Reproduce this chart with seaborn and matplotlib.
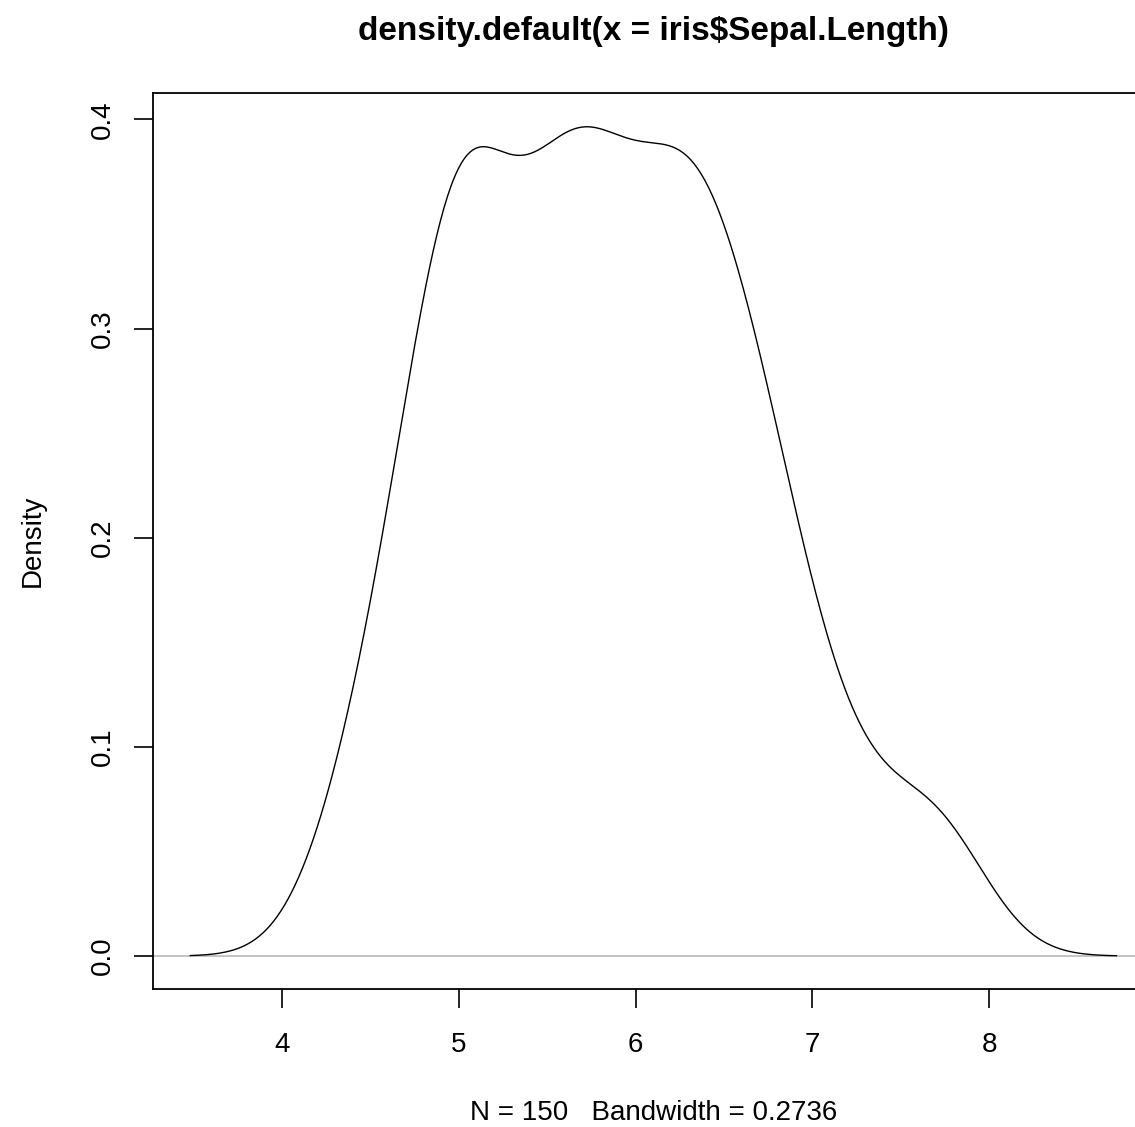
import matplotlib
matplotlib.use("Agg")
import matplotlib.pyplot as plt
import seaborn as sns
import numpy as np

# Data: iris$Sepal.Length (N = 150)
sepal_length = [
    5.1, 4.9, 4.7, 4.6, 5.0, 5.4, 4.6, 5.0, 4.4, 4.9, 5.4, 4.8, 4.8, 4.3, 5.8, 5.7, 5.4, 5.1, 5.7, 5.1,
    5.4, 5.1, 4.6, 5.1, 4.8, 5.0, 5.0, 5.2, 5.2, 4.7, 4.8, 5.4, 5.2, 5.5, 4.9, 5.0, 5.5, 4.9, 4.4, 5.1,
    5.0, 4.5, 4.4, 5.0, 5.1, 4.8, 5.1, 4.6, 5.3, 5.0,
    7.0, 6.4, 6.9, 5.5, 6.5, 5.7, 6.3, 4.9, 6.6, 5.2, 5.0, 5.9, 6.0, 6.1, 5.6, 6.7, 5.6, 5.8, 6.2, 5.6,
    5.9, 6.1, 6.3, 6.1, 6.4, 6.6, 6.8, 6.7, 6.0, 5.7, 5.5, 5.5, 5.8, 6.0, 5.4, 6.0, 6.7, 6.3, 5.6, 5.5,
    5.5, 6.1, 5.8, 5.0, 5.6, 5.7, 5.7, 6.2, 5.1, 5.7,
    6.3, 5.8, 7.1, 6.3, 6.5, 7.6, 4.9, 7.3, 6.7, 7.2, 6.5, 6.4, 6.8, 5.7, 5.8, 6.4, 6.5, 7.7, 7.7, 6.0,
    6.9, 5.6, 7.7, 6.3, 6.7, 7.2, 6.2, 6.1, 6.4, 7.2, 7.4, 7.9, 6.4, 6.3, 6.1, 7.7, 6.3, 6.4, 6.0, 6.9,
    6.7, 6.9, 5.8, 6.8, 6.7, 6.7, 6.3, 6.5, 6.2, 5.9,
]
bandwidth = 0.2736
x_ticks = [4, 5, 6, 7, 8]
y_ticks = [0.0, 0.1, 0.2, 0.3, 0.4]
y_tick_labels = ["0.0", "0.1", "0.2", "0.3", "0.4"]
title_text = "density.default(x = iris$Sepal.Length)"
xlabel_text = "N = 150   Bandwidth = 0.2736"
ylabel_text = "Density"

sns.set_theme(style="white")
plt.rcParams["font.family"] = ["Liberation Sans", "DejaVu Sans"]
plt.rcParams["text.color"] = "black"
plt.rcParams["axes.labelcolor"] = "black"

fig = plt.figure(figsize=(11.35, 11.27), dpi=100)
ax = fig.add_axes([153 / 1135, (1127 - 989.3) / 1127, 1000.6 / 1135, (989.3 - 93) / 1127])

sd = np.std(sepal_length, ddof=1)
sns.kdeplot(x=sepal_length, bw_method=bandwidth / sd, cut=3, gridsize=512,
            color="black", linewidth=1.0, ax=ax)
ax.axhline(0, color="#BEBEBE", linewidth=1.3, zorder=0)

ax.set_xlim(3.269, 8.930)
ax.set_ylim(-0.0159, 0.4126)

ax.set_xticks(x_ticks)
ax.set_xticklabels([str(v) for v in x_ticks])
ax.set_yticks(y_ticks)
ax.set_yticklabels(y_tick_labels, rotation=90, va="center")

ax.tick_params(axis="both", which="major", direction="out", length=13.5, width=1.2,
               color="black", labelsize=20, labelcolor="black", bottom=True, left=True)
ax.tick_params(axis="x", pad=17.5)
ax.tick_params(axis="y", pad=13)

for s in ax.spines.values():
    s.set_color("black")
    s.set_linewidth(1.3)
    s.set_visible(True)

ax.set_xlabel(xlabel_text, fontsize=20, labelpad=30, color="black")
ax.set_ylabel(ylabel_text, fontsize=20, labelpad=32, color="black")
ax.set_title(title_text, fontsize=24, fontweight="bold", pad=38.5, color="black")

fig.savefig("out.png", dpi=100, facecolor="white")
